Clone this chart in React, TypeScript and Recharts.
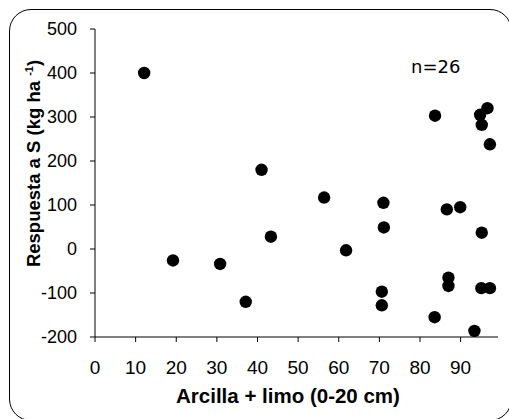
import React from 'react'
import { ScatterChart, Scatter, XAxis, YAxis, Customized } from 'recharts'

// Arcilla + limo (%) vs respuesta a S (kg/ha)
const arcillaLimo = [
  12.1, 19.2, 30.8, 37.1, 41.0, 43.3, 56.4, 61.8, 71.0, 71.1, 70.6, 70.6, 83.6,
  83.7, 86.6, 89.9, 87.0, 87.0, 93.4, 95.2, 95.1, 97.2, 97.2, 96.6, 94.8, 95.2,
]
const respuestaS = [
  400, -26, -34, -120, 180, 28, 117, -3, 105, 49, -97, -128, -155,
  303, 90, 95, -65, -84, -186, 37, -89, -89, 238, 320, 305, 282,
]
const xTicks = [0, 10, 20, 30, 40, 50, 60, 70, 80, 90]
const yTicks = [-200, -100, 0, 100, 200, 300, 400, 500]

const points = arcillaLimo.map((x, i) => ({ x, y: respuestaS[i] }))

const font = '"Liberation Sans", Arial, sans-serif'

const Dot = (props: any) => <circle cx={props.cx} cy={props.cy} r={6.2} fill="#000" />

const YTitle = () => (
  <text
    transform="translate(40,163.5) rotate(-90)"
    textAnchor="middle"
    fontFamily={font}
    fontWeight="bold"
    fontSize={18.5}
    fill="#000"
  >
    Respuesta a S (kg ha{' '}
    <tspan fontSize={11} dy={-7}>-1</tspan>
    <tspan dy={7}>)</tspan>
  </text>
)

const XTitle = () => (
  <text x={288} y={403} textAnchor="middle" fontFamily={font} fontWeight="bold" fontSize={20.5} fill="#000">
    Arcilla + limo (0-20 cm)
  </text>
)

const NLabel = () => (
  <text x={411} y={73} fontFamily='"DejaVu Sans", sans-serif' fontSize={18} fill="#000">
    n=26
  </text>
)

export default function App() {
  return (
    <div style={{ position: 'absolute', left: 0, top: 0, width: 509, height: 419, overflow: 'hidden', background: '#fff' }}>
      <div
        style={{
          position: 'absolute',
          left: 9,
          top: 9,
          width: 503,
          height: 412,
          boxSizing: 'border-box',
          border: '1px solid #000',
          borderRadius: 22,
        }}
      />
      <div style={{ position: 'absolute', left: 0, top: 0 }}>
        <ScatterChart width={509} height={419} margin={{ top: 29, right: 11, bottom: 32, left: 35 }}>
          <XAxis
            type="number"
            dataKey="x"
            domain={[0, 99.2]}
            ticks={xTicks}
            allowDataOverflow
            height={50}
            stroke="#000"
            tickSize={5}
            tickMargin={19}
            tick={{ fill: '#000', fontSize: 19, fontFamily: font }}
            label={{ content: () => <XTitle /> }}
          />
          <YAxis
            type="number"
            dataKey="y"
            domain={[-200, 500]}
            ticks={yTicks}
            allowDataOverflow
            width={60}
            stroke="#000"
            tickSize={5}
            tickMargin={13}
            tick={{ fill: '#000', fontSize: 18, fontFamily: font }}
            label={{ content: () => <YTitle /> }}
          />
          <Scatter data={points} fill="#000" shape={Dot} isAnimationActive={false} />
          <Customized component={NLabel} />
        </ScatterChart>
      </div>
    </div>
  )
}
